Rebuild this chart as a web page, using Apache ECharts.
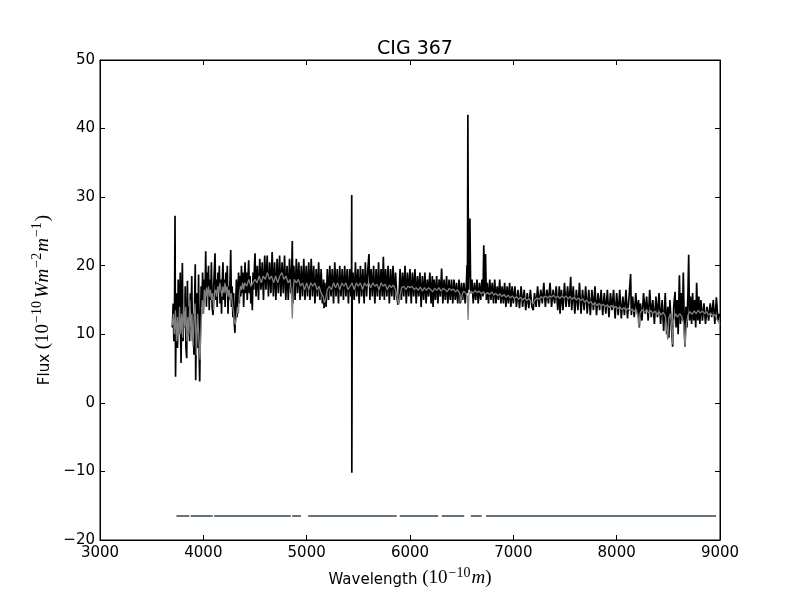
<!DOCTYPE html>
<html>
<head>
<meta charset="utf-8">
<script src="https://cdn.jsdelivr.net/npm/echarts@6/dist/echarts.min.js"></script>
<style>html,body{margin:0;padding:0;background:#fff}#c{width:800px;height:600px}</style>
</head>
<body>
<div id="c"></div>
<script>
// Observed spectrum [wavelength (Å), flux]
const observed = [
[3700,11],[3708,14.5],[3715,9],[3721,13],[3726,27.3],[3731,3.8],[3737,12],[3744,16],[3750,8],[3757,18],[3763,10],[3770,14],[3777,19],[3784,5.8],[3790,13],[3797,20.4],[3804,9],[3811,15],[3818,11],[3825,17],[3832,8],[3839,6.5],[3846,17.8],[3853,10],[3860,14],[3867,9],[3874,16],[3881,12],[3888,18.5],[3895,9],[3902,13],[3909,7],[3916,15],[3922,20.2],[3926,3.3],[3933,11],[3940,16],[3947,8],[3954,18.7],[3961,6],[3965,3.1],[3972,12],[3979,17],[3986,14],[3993,19],[4000,13],
[4010,18],[4016,15],[4023,22.1],[4030,14],[4037,19],[4044,16],[4050,20],[4057,13.5],[4064,18],[4071,15],[4078,20.5],[4085,14],[4094,12.8],[4100,17],[4107,19.5],[4113,21.8],[4120,15],[4127,18],[4134,14],[4141,19],[4148,16.5],[4155,20],[4162,14.5],[4169,18],[4176,13],[4183,17.5],[4190,20.5],[4197,15],[4204,18],[4211,14],[4218,19],[4225,16],[4232,20],[4239,13],[4246,17],[4253,15],[4260,19],[4265,22.3],[4272,14],[4279,17],[4286,12.5],[4293,16],[4300,11.5],[4306,10.2],[4313,14],[4320,18],[4327,12.5],[4334,16],[4341,19],[4348,14.5],[4355,18.5],[4362,15.5],[4369,20],[4376,16],[4383,19],[4390,14],[4397,17.5],[4404,20.5],[4411,16],[4418,19],[4425,15],[4432,18],[4439,20.8],[4446,16],[4453,18.5],[4460,14.5],[4467,17],[4474,13.5],[4481,19],[4488,16.5],[4495,20],[4500,21.8],
[4510,15.5],[4522,20],[4534,15],[4546,21],[4558,16.5],[4570,20.5],[4582,15],[4594,21.5],[4606,16.5],[4618,21.5],[4630,15.5],[4642,20.5],[4654,16],[4666,22],[4678,15.5],[4690,20.5],[4702,15],[4714,21],[4726,16],[4738,21.5],[4750,15.5],[4762,20.5],[4774,16],[4786,21.5],[4798,15],[4810,20],[4822,15],[4834,21],[4846,16],[4856,20],[4861,23.6],[4866,14.5],[4876,20],[4888,15],[4900,21],[4912,16],[4924,20.5],[4936,15],[4948,20],[4960,15.5],[4972,21],[4984,15],[4996,20],
[5008,15.5],[5020,20.5],[5032,15],[5044,21],[5056,15.5],[5068,20],[5080,14.5],[5092,19.5],[5104,15.5],[5116,20.5],[5128,15],[5140,19.5],[5152,14.5],[5164,18],[5168,13.8],[5176,17.5],[5188,14],[5200,19.5],[5212,15],[5224,20],[5236,15.5],[5248,19.5],[5260,14.5],[5272,20.5],[5284,15.5],[5296,19.5],[5308,14.5],[5320,20],[5332,15.5],[5344,19.5],[5356,15],[5368,20],[5380,15.5],[5392,19.5],[5404,14.5],[5416,19.5],[5428,15.5],[5434,17],[5436,30.3],[5437,-10.2],[5441,17],
[5448,19],[5460,15],[5472,20.5],[5484,15.5],[5496,19.5],[5508,14.5],[5520,20],[5532,15.5],[5544,19.5],[5556,14.5],[5568,20.5],[5580,15.5],[5592,19.5],[5603,21.7],[5612,15],[5624,19.5],[5636,15.5],[5648,20],[5660,14.5],[5672,19.5],[5684,15.5],[5696,20.5],[5708,15],[5720,19.5],[5732,15.5],[5742,21.3],[5752,15],[5764,19.5],[5776,15.5],[5788,20],[5800,14.5],[5812,19.5],[5824,15.5],[5836,20],[5848,15],[5860,19],[5872,15.5],[5884,14.3],[5892,14.8],[5904,19.5],[5916,15],[5928,19],[5940,15.5],[5952,20],[5964,14.5],[5976,19],[5988,15.5],[6000,19.5],
[6012,14.5],[6024,19],[6036,15.5],[6048,19.5],[6060,14.5],[6072,18.5],[6084,15.5],[6096,19],[6108,14],[6120,18.5],[6132,15],[6144,19],[6156,14.5],[6168,18],[6180,15.5],[6192,19],[6204,14.5],[6216,18.5],[6223,14],[6234,18],[6246,15],[6258,18.5],[6270,14.5],[6282,18],[6294,15.5],[6306,19.6],[6318,14.5],[6330,18],[6342,15],[6354,18.5],[6366,14.5],[6378,18],[6390,15],[6402,18],[6414,14.5],[6426,18],[6438,15],[6450,17.5],[6462,14.5],[6474,18],[6486,14.5],[6498,17.5],[6510,15],[6522,17.5],[6534,14.5],[6546,17.5],[6552,20.1],[6556,16],[6560,42],[6563,42],[6566,16.5],[6578,16.5],[6580,26.9],[6583,26.9],[6587,16],
[6600,18],[6612,14.5],[6624,17.5],[6636,15],[6648,18],[6660,14.5],[6672,17.5],[6684,15],[6696,18],[6706,15.5],[6714,23],[6718,23],[6722,16],[6731,21.7],[6735,21.7],[6739,15],[6748,17.5],[6760,14.5],[6772,18],[6784,15],[6796,17.5],[6808,14.5],[6820,18],[6832,14.5],[6844,17],[6856,15],[6868,18],[6880,14.5],[6892,17],[6904,14.5],[6916,17.5],[6928,14],[6940,17],[6952,14.5],[6964,17.5],[6976,14],[6988,17],[7000,14.5],
[7015,17],[7030,14],[7045,16.5],[7060,13.8],[7075,17],[7090,14],[7105,16.5],[7120,13.5],[7135,16],[7150,13.8],[7165,16.5],[7180,14],[7193,13.5],[7205,16],[7220,14],[7235,17],[7250,14],[7265,16.5],[7280,14.5],[7295,17.5],[7310,14],[7325,16.5],[7340,14.5],[7355,17.5],[7370,14],[7385,16.5],[7400,14.5],[7415,17],[7430,13.5],[7445,17],[7452,13],[7465,16.5],[7480,13.5],[7495,17.5],[7510,14],[7525,17],[7540,14],[7555,18.4],[7565,13.5],
[7580,17],[7595,13],[7610,16.5],[7625,13.5],[7640,17.5],[7655,13],[7670,16.5],[7685,13.5],[7700,17],[7715,13],[7730,16.5],[7745,12.8],[7760,16.5],[7775,13.5],[7790,17],[7805,12.8],[7820,16],[7835,13.5],[7850,16.5],[7865,12.8],[7880,16],[7895,13],[7910,16.5],[7925,12.5],[7940,16],[7955,13.5],[7970,16.5],[7985,12.3],[8000,16],[8015,12.8],[8030,16.5],[8045,12.3],[8060,15.5],[8075,12.8],[8090,16.5],[8105,12.3],[8120,15.5],[8135,18.8],[8142,12.8],
[8155,15.5],[8170,12.5],[8185,16],[8200,13],[8212,15],[8219,11],[8230,14.5],[8245,12],[8260,16],[8275,13],[8290,15.5],[8305,12],[8320,16.5],[8335,12.5],[8350,15],[8365,11.5],[8380,15.5],[8395,12.5],[8410,16],[8425,11.5],[8440,15],[8455,10.5],[8470,16],[8484,10],[8495,14],[8505,9.5],[8515,15],[8530,11],[8542,8.2],[8552,14],[8565,16.2],[8575,11],[8585,15],[8595,10],[8607,18.6],[8617,11.5],[8627,16],[8637,12],[8645,19],[8655,10.5],[8661,8.2],[8670,14],[8680,11],[8690,16],[8697,21.6],[8705,12],[8715,15.5],[8725,11.5],[8735,16],[8745,12],[8755,15],[8765,11],[8774,17.5],[8785,12],[8795,15.5],[8805,11.5],[8815,15],[8830,12],[8845,14.5],[8860,11.5],[8875,14],[8890,12],[8905,14.5],[8920,12.5],[8935,15],[8950,11.5],[8965,15.4],[8980,12],[8995,13]
];

// Model (synthetic) spectrum [wavelength (Å), flux]
const model = [
[3700,11.3],[3710,13],[3720,10],[3730,13.5],[3740,9],[3750,12.5],[3760,8.5],[3770,14],[3780,10],[3790,13],[3800,9.5],[3810,15],[3820,11],[3830,14],[3840,9],[3850,12.5],[3860,10],[3870,15],[3880,11],[3890,13],[3900,8.2],[3910,12],[3920,14.5],[3933,7],[3945,13],[3955,10],[3968,6.3],[3980,12],[3990,15],[4000,13],[4010,16.5],[4020,15],[4030,16.8],[4040,15.5],[4050,17],[4060,15.5],[4070,16.5],[4080,15],[4090,16],[4101,13.5],[4110,16],[4120,16.5],[4130,15.5],[4140,17],[4150,16],[4160,17.5],[4170,16.5],[4180,15.5],[4190,17],[4200,16],[4210,17.5],[4220,16],[4230,17],[4240,15.5],[4250,16.5],[4260,15],[4270,16],[4280,14.5],[4290,13.5],[4300,12],[4310,11.4],[4320,12.5],[4330,14],[4340,13],[4350,16],[4360,17],[4370,16.5],[4380,17.5],[4390,16.5],[4400,17.5],[4420,17],[4440,18],[4460,17],[4480,17.5],[4500,18],[4520,17.5],[4540,18.5],[4560,17.5],[4580,18.5],[4600,18],[4620,19],[4640,18],[4660,18.5],[4680,17.5],[4700,18.5],[4720,17.5],[4740,18.5],[4760,19],[4780,18],[4800,18.5],[4820,17.5],[4840,18],[4852,16],[4861,12.3],[4870,16.5],[4880,18],[4900,17.5],[4920,18],[4940,17],[4960,17.5],[4980,16.5],[5000,17.5],[5020,16.5],[5040,17.5],[5060,17],[5080,17.5],[5100,16.5],[5120,17],[5140,16],[5160,15.5],[5172,14.6],[5184,15.2],[5200,16.5],[5220,17],[5240,16.5],[5260,17.5],[5280,16.8],[5300,17.5],[5320,16.5],[5340,17.5],[5360,17],[5380,17.5],[5400,16.5],[5420,17],[5440,17.5],[5460,16.5],[5480,17.5],[5500,17],[5520,17.5],[5540,16.5],[5560,17.5],[5580,17],[5600,17.5],[5620,16.8],[5640,17.5],[5660,17],[5680,17.3],[5700,16.5],[5720,17.5],[5740,17],[5760,17.3],[5780,16.5],[5800,17.2],[5820,16.8],[5840,17.2],[5860,16.5],[5875,15.5],[5890,14.3],[5900,15.5],[5920,16.8],[5940,17],[5960,16.5],[5980,17],[6000,16.8],[6020,17],[6040,16.5],[6060,16.8],[6080,16.4],[6100,16.9],[6120,16.3],[6140,16.8],[6160,16.4],[6180,16.8],[6200,16.5],[6220,16.2],[6240,16.7],[6260,16.4],[6280,16.8],[6300,16.3],[6320,16.7],[6340,16.5],[6360,16.2],[6380,16.7],[6400,16.4],[6420,16.6],[6440,16.2],[6460,16.5],[6480,16],[6495,14.6],[6505,15.8],[6520,16.3],[6540,16],[6555,15.5],[6562,12.1],[6570,15.8],[6590,16.3],[6610,16],[6630,16.4],[6650,16.1],[6670,16.3],[6690,15.9],[6710,16.2],[6730,15.8],[6750,16.1],[6770,15.8],[6790,16.2],[6810,15.7],[6830,16],[6850,15.6],[6870,15.9],[6890,15.5],[6910,15.8],[6930,15.4],[6950,15.7],[6970,15.3],[6990,15.6],[7010,15.2],[7030,15.5],[7050,15.1],[7070,15.4],[7090,15],[7110,15.3],[7130,14.9],[7150,15.2],[7170,14.8],[7193,14.5],[7210,15],[7230,15.3],[7250,15.1],[7270,15.5],[7290,15.2],[7310,15.6],[7330,15.3],[7350,15.6],[7370,15.4],[7390,15.7],[7410,15.3],[7430,15.6],[7450,15.2],[7470,15.6],[7490,15.3],[7510,15.6],[7530,15.2],[7550,15.5],[7570,15.1],[7590,15.4],[7610,15],[7630,15.3],[7650,14.9],[7670,15.2],[7690,14.7],[7710,15],[7730,14.5],[7750,14.8],[7770,14.3],[7790,14.6],[7810,14.2],[7830,14.5],[7850,14.1],[7870,14.4],[7890,14],[7910,14.3],[7930,13.9],[7950,14.2],[7970,13.8],[7990,14.1],[8010,13.7],[8030,14],[8050,13.6],[8070,13.9],[8090,13.5],[8110,13.8],[8130,13.4],[8150,13.7],[8170,13.3],[8190,13.6],[8205,12.5],[8215,11],[8225,13],[8245,13.6],[8270,13.2],[8290,13.6],[8310,13.1],[8330,13.5],[8350,13],[8370,13.4],[8390,12.9],[8410,13.3],[8430,12.8],[8450,13.2],[8470,12.7],[8484,11],[8494,9.2],[8504,12.3],[8520,13],[8532,11.5],[8542,8.5],[8552,12],[8570,13],[8590,12.5],[8610,13],[8630,12.6],[8648,11.5],[8662,8.2],[8675,11.5],[8690,12.8],[8710,13.3],[8730,12.9],[8750,13.4],[8770,13],[8790,13.5],[8810,13.1],[8830,13.4],[8850,13],[8870,13.3],[8890,12.8],[8910,13.1],[8930,12.6],[8950,12.9],[8970,12.2],[8985,12],[9000,11.4]
];

// Fitted-region mask segments
const maskStart = [3740,3877,4105,4860,5015,5900,6307,6588,6736];
const maskEnd   = [3863,4091,4846,4945,5872,6272,6525,6694,8962];
const maskLevel = -16.5;

const xTicks = [3000,4000,5000,6000,7000,8000,9000];
const yTicks = [-20,-10,0,10,20,30,40,50];

const maskData = [];
for (let i = 0; i < maskStart.length; i++) {
  maskData.push([maskStart[i], maskLevel]);
  maskData.push([maskEnd[i], maskLevel]);
  maskData.push([maskEnd[i], null]);
}

const chart = echarts.init(document.getElementById('c'), null, {renderer: 'canvas'});
const sans = 'DejaVu Sans';
const serif = 'Liberation Serif';
const rich = {
  t: {fontFamily: sans, fontSize: 15, color: '#000', lineHeight: 22, verticalAlign: 'bottom'},
  m: {fontFamily: serif, fontSize: 19, color: '#000', lineHeight: 22, verticalAlign: 'bottom'},
  g: {fontFamily: serif, fontSize: 7, color: '#000', lineHeight: 22, verticalAlign: 'bottom'},
  i: {fontFamily: serif, fontSize: 19, fontStyle: 'italic', color: '#000', lineHeight: 22, verticalAlign: 'bottom'},
  s: {fontFamily: serif, fontSize: 14, color: '#000', lineHeight: 10, verticalAlign: 'top', padding: [0, 1, 0, 1]}
};
const fmt = v => String(v).replace('-', '\u2212');

const option = {
  animation: false,
  backgroundColor: '#fff',
  title: {
    text: 'CIG 367', left: 410, top: 35, textAlign: 'center',
    textStyle: {fontFamily: sans, fontSize: 19, fontWeight: 'normal', color: '#000'}
  },
  grid: {left: 100, right: 80, top: 60, bottom: 60, show: true, borderColor: '#000', borderWidth: 1, backgroundColor: 'transparent'},
  xAxis: [{
    type: 'value', min: xTicks[0], max: xTicks[xTicks.length-1], interval: 1000,
    name: '{t|Wavelength }{m|(10}{s|\u221210}{i|m}{m|)}',
    nameLocation: 'middle', nameGap: 23,
    nameTextStyle: {rich: rich},
    axisLine: {show: true, onZero: false, lineStyle: {color: '#000', width: 1}},
    axisTick: {show: true, inside: true, length: 5, lineStyle: {color: '#000'}},
    axisLabel: {fontFamily: sans, fontSize: 15, color: '#000', margin: 6, formatter: fmt},
    splitLine: {show: false}
  }, {
    type: 'value', position: 'top', min: xTicks[0], max: xTicks[xTicks.length-1], interval: 1000,
    axisLine: {show: true, onZero: false, lineStyle: {color: '#000', width: 1}},
    axisTick: {show: true, inside: true, length: 5, lineStyle: {color: '#000'}},
    axisLabel: {show: false}, splitLine: {show: false}
  }],
  yAxis: [{
    type: 'value', min: yTicks[0], max: yTicks[yTicks.length-1], interval: 10,
    name: '{t|Flux }{m|(10}{s|\u221210}{g| }{i|Wm}{s|\u22122}{i|m}{s|\u22121}{m|)}',
    nameLocation: 'middle', nameGap: 47, nameRotate: 90,
    nameTextStyle: {rich: rich},
    axisLine: {show: true, onZero: false, lineStyle: {color: '#000', width: 1}},
    axisTick: {show: true, inside: true, length: 5, lineStyle: {color: '#000'}},
    axisLabel: {fontFamily: sans, fontSize: 15, color: '#000', margin: 5, formatter: fmt},
    splitLine: {show: false}
  }, {
    type: 'value', position: 'right', min: yTicks[0], max: yTicks[yTicks.length-1], interval: 10,
    axisLine: {show: true, onZero: false, lineStyle: {color: '#000', width: 1}},
    axisTick: {show: true, inside: true, length: 5, lineStyle: {color: '#000'}},
    axisLabel: {show: false}, splitLine: {show: false}
  }],
  series: [{
    type: 'line', name: 'observed', data: observed, xAxisIndex: 0, yAxisIndex: 0,
    showSymbol: false, symbol: 'none', sampling: false,
    lineStyle: {color: '#000', width: 1.7}, z: 2
  }, {
    type: 'line', name: 'model', data: model, xAxisIndex: 0, yAxisIndex: 0,
    showSymbol: false, symbol: 'none',
    lineStyle: {color: '#808080', width: 1.3}, z: 3
  }, {
    type: 'line', name: 'mask', data: maskData, xAxisIndex: 0, yAxisIndex: 0,
    showSymbol: false, symbol: 'none', connectNulls: false,
    lineStyle: {color: '#64737d', width: 2}, z: 3
  }]
};
chart.setOption(option);
</script>
</body>
</html>
